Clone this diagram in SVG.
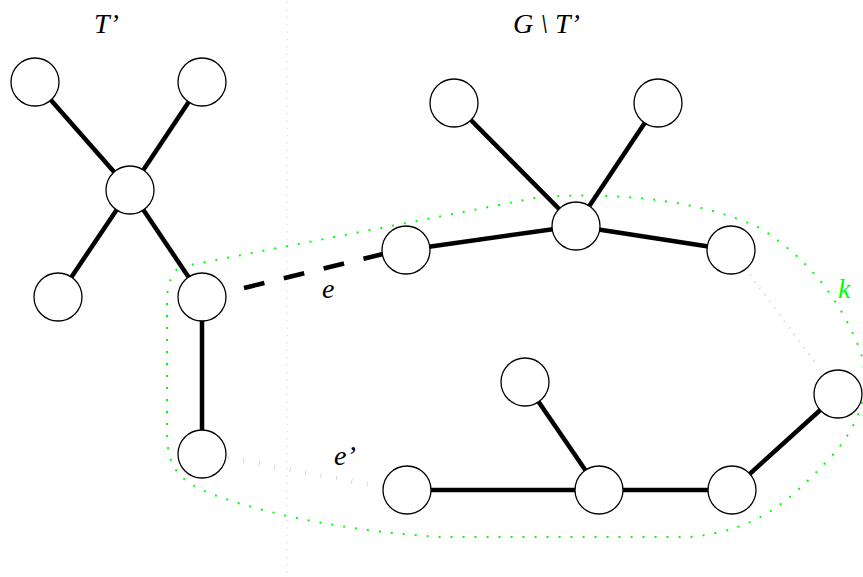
<svg xmlns="http://www.w3.org/2000/svg" width="863" height="577" viewBox="0 0 863 577">
<style>
.n{fill:#fff;stroke:#000;stroke-width:1.3}
.ed{stroke:#000;stroke-width:4.5;fill:none}
.lb{font-family:"Liberation Serif",serif;font-style:italic;font-size:28px;fill:#000}
</style>
<rect width="863" height="577" fill="#fff"/>
<line x1="287" y1="2" x2="287" y2="577" stroke="#c8c8c8" stroke-width="1" stroke-dasharray="1 6.4"/>
<path d="M 180,267 L 540,197 C 620,192 700,200 760,228 C 810,260 840,300 860,350 C 872,390 860,425 830,458 C 790,500 760,530 690,537 L 440,537 C 360,532 280,518 220,497 C 175,482 167,465 167,430 L 167,300 C 167,285 172,272 180,267 Z" fill="none" stroke="#00ff00" stroke-width="2" stroke-dasharray="2 10"/>
<g id="connectors">
<line class="ed" x1="35" y1="82" x2="130" y2="190"/>
<line class="ed" x1="202" y1="82" x2="130" y2="190"/>
<line class="ed" x1="58" y1="297" x2="130" y2="190"/>
<line class="ed" x1="202" y1="297" x2="130" y2="190"/>
<line class="ed" x1="202" y1="297" x2="202" y2="454"/>
<line class="ed" x1="244" y1="288" x2="383" y2="254" stroke-dasharray="21 20"/>
<line x1="228" y1="458" x2="383" y2="487" stroke="#c8c8c8" stroke-width="5" stroke-dasharray="0.7 15"/>
<line x1="750" y1="275" x2="817" y2="365" stroke="#c8c8c8" stroke-width="3" stroke-dasharray="0.7 7.5"/>
<line class="ed" x1="454" y1="103" x2="576" y2="226"/>
<line class="ed" x1="658" y1="103" x2="576" y2="226"/>
<line class="ed" x1="406" y1="250" x2="576" y2="226"/>
<line class="ed" x1="731" y1="250" x2="576" y2="226"/>
<line class="ed" x1="525" y1="382" x2="599" y2="490"/>
<line class="ed" x1="407" y1="490" x2="732" y2="490"/>
<line class="ed" x1="732" y1="490" x2="838" y2="394"/>
</g>
<g id="t1"><circle class="n" cx="35" cy="82" r="24"/></g>
<g id="t2"><circle class="n" cx="202" cy="82" r="24"/></g>
<g id="t3"><circle class="n" cx="130" cy="190" r="24"/></g>
<g id="t4"><circle class="n" cx="58" cy="297" r="24"/></g>
<g id="t5"><circle class="n" cx="202" cy="297" r="24"/></g>
<g id="t6"><circle class="n" cx="202" cy="454" r="24"/></g>
<g id="g1"><circle class="n" cx="454" cy="103" r="24"/></g>
<g id="g2"><circle class="n" cx="658" cy="103" r="24"/></g>
<g id="g3"><circle class="n" cx="576" cy="226" r="24"/></g>
<g id="g4"><circle class="n" cx="406" cy="250" r="24"/></g>
<g id="g5"><circle class="n" cx="731" cy="250" r="24"/></g>
<g id="g6"><circle class="n" cx="838" cy="394" r="24"/></g>
<g id="g7"><circle class="n" cx="525" cy="382" r="24"/></g>
<g id="g8"><circle class="n" cx="407" cy="490" r="24"/></g>
<g id="g9"><circle class="n" cx="599" cy="490" r="24"/></g>
<g id="g10"><circle class="n" cx="732" cy="490" r="24"/></g>
<text class="lb" x="94" y="33">T’</text>
<text class="lb" x="513" y="33">G \ T’</text>
<text class="lb" x="322" y="298">e</text>
<text class="lb" x="334" y="465">e’</text>
<text class="lb" x="838" y="298" fill="#00ff00" style="fill:#00ff00">k</text>
</svg>
